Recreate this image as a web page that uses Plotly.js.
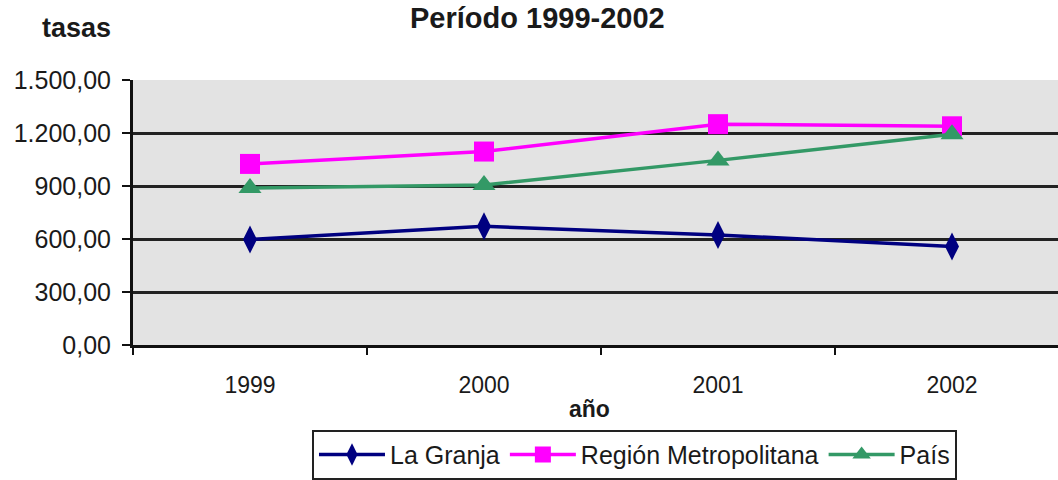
<!DOCTYPE html>
<html>
<head>
<meta charset="utf-8">
<script src="https://cdn.plot.ly/plotly-3.0.1.min.js"></script>
<style>html,body{margin:0;padding:0;background:#fff;}#chart{width:1058px;height:480px;}</style>
</head>
<body>
<div id="chart"></div>
<script>
const years = ['1999', '2000', '2001', '2002'];
const laGranja = [597, 672, 623, 558];
const regionMetropolitana = [1025, 1095, 1250, 1238];
const pais = [888, 906, 1045, 1193];
const seriesNames = ['La Granja', 'Región Metropolitana', 'País'];
const yTicks = [0, 300, 600, 900, 1200, 1500];

const font = 'Liberation Sans, Arial, sans-serif';
const txt = '#1a1a1a';
const traces = [
  {x: years, y: laGranja, name: seriesNames[0], type: 'scatter', mode: 'lines+markers',
   line: {color: '#000080', width: 3.5}, marker: {symbol: 'diamond-tall', size: 20, color: '#000080'}},
  {x: years, y: regionMetropolitana, name: seriesNames[1], type: 'scatter', mode: 'lines+markers',
   line: {color: '#ff00ff', width: 3.5}, marker: {symbol: 'square', size: 20, color: '#ff00ff'}},
  {x: years, y: pais, name: seriesNames[2], type: 'scatter', mode: 'lines+markers',
   line: {color: '#339966', width: 3.5}, marker: {symbol: 'triangle-up', size: 20, color: '#339966'}}
];

const layout = {
  width: 1058, height: 480,
  margin: {l: 133, r: 0, t: 80, b: 132},
  paper_bgcolor: '#ffffff', plot_bgcolor: '#e3e3e3',
  separators: ',.',
  font: {family: font, color: txt, size: 23},
  showlegend: true,
  xaxis: {type: 'category', range: [-0.5, 3.453], showline: true, linecolor: '#111', linewidth: 3,
    ticks: 'outside', tickson: 'boundaries', ticklen: 7, tickcolor: '#111', tickwidth: 2,
    ticklabelstandoff: 17,
    showgrid: false, zeroline: false, tickfont: {size: 23, family: font, color: txt}},
  yaxis: {range: [0, 1500], tickvals: yTicks, tickformat: ',.2f', showline: true, linecolor: '#111', linewidth: 3,
    ticks: 'outside', ticklen: 8, tickcolor: '#111', tickwidth: 2, ticklabelstandoff: 6,
    showgrid: true, gridcolor: '#222', gridwidth: 2.5, zeroline: false,
    tickfont: {size: 25, family: font, color: txt}},
  legend: {orientation: 'h', x: 0.1935, xanchor: 'left', y: -0.32, yanchor: 'top',
    bgcolor: '#ffffff', bordercolor: '#222', borderwidth: 2, itemwidth: 66,
    font: {size: 25, family: font, color: txt}},
  annotations: [
    {text: '<b>Período 1999-2002</b>', xref: 'paper', yref: 'paper', x: 0.4374, y: 1, yshift: 80, xanchor: 'center', yanchor: 'top',
     showarrow: false, font: {size: 29, family: font, color: txt}},
    {text: '<b>tasas</b>', xref: 'paper', yref: 'paper', x: 0, xshift: -133 + 40, y: 1, yshift: 52, xanchor: 'left', yanchor: 'middle',
     showarrow: false, font: {size: 27, family: font, color: txt}},
    {text: '<b>año</b>', xref: 'paper', yref: 'paper', x: 0.4935, y: 0, yshift: -64, xanchor: 'center', yanchor: 'middle',
     showarrow: false, font: {size: 23, family: font, color: txt}}
  ]
};

Plotly.newPlot('chart', traces, layout, {displayModeBar: false, responsive: false});
</script>
</body>
</html>
